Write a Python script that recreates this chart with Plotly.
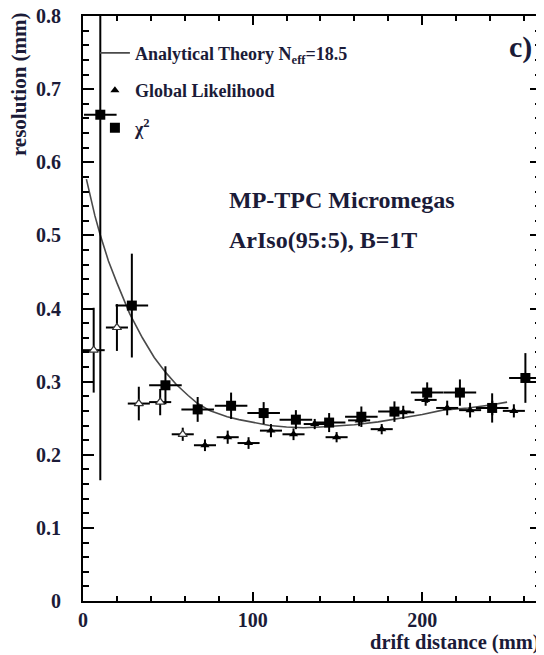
import plotly.graph_objects as go

# ---------------- data ----------------
# Analytical theory curve (N_eff = 18.5)
theory_x = [2, 4, 7, 10, 15, 20, 27.5, 35, 42, 48.6, 55, 62, 67.6, 75, 85, 92, 100,
            110, 120, 130, 140, 150, 160, 174, 190, 200, 212, 227, 240, 250]
theory_y = [0.577, 0.555, 0.527, 0.502, 0.465, 0.435, 0.393, 0.360, 0.333, 0.313,
            0.296, 0.281, 0.270, 0.260, 0.252, 0.248, 0.244, 0.240, 0.238, 0.237,
            0.238, 0.239, 0.241, 0.245, 0.251, 0.255, 0.261, 0.264, 0.268, 0.272]

# Global likelihood (triangles)
gl_x = [6.3, 20.0, 32.9, 45.5, 58.8, 71.9, 85.3, 97.6, 110.8, 124.1, 136.6, 149.5,
        162.8, 176.1, 188.8, 202.0, 214.7, 228.2, 241.3, 254.0]
gl_y = [0.343, 0.374, 0.270, 0.272, 0.228, 0.213, 0.224, 0.216, 0.233, 0.228, 0.242,
        0.224, 0.247, 0.235, 0.258, 0.275, 0.264, 0.261, 0.264, 0.260]
gl_xerr = [6.5] * 20
gl_yerr = [0.058, 0.032, 0.023, 0.018, 0.009, 0.008, 0.009, 0.008, 0.009, 0.008,
           0.007, 0.007, 0.008, 0.007, 0.009, 0.008, 0.010, 0.010, 0.010, 0.009]
gl_n_open = 5  # first points drawn as open markers

# Chi^2 (squares)
chi_x = [10.2, 28.8, 48.6, 67.6, 87.3, 106.5, 125.5, 145.1, 164.1, 183.6, 202.9,
         222.2, 241.2, 260.8]
chi_y = [0.665, 0.404, 0.295, 0.262, 0.267, 0.257, 0.248, 0.244, 0.252, 0.259,
         0.285, 0.285, 0.264, 0.305]
chi_xerr = [9.6] * 14
chi_yerr = [0.50, 0.071, 0.026, 0.017, 0.018, 0.015, 0.013, 0.013, 0.014, 0.014,
            0.014, 0.018, 0.020, 0.034]

x_range = [0, 270]
y_range = [0, 0.8]
x_ticks = [0, 100, 200]
y_ticks = [0, 0.1, 0.2, 0.3, 0.4, 0.5, 0.6, 0.7, 0.8]
y_ticklabels = ["0", "0.1", "0.2", "0.3", "0.4", "0.5", "0.6", "0.7", "0.8"]

# ---------------- figure ----------------
TXT = "#1b1b38"
FONT = "Liberation Serif"

fig = go.Figure()

fig.add_trace(go.Scatter(
    x=theory_x, y=theory_y, mode="lines",
    line=dict(color="#4a4a4a", width=1.6),
    name="Analytical Theory N<sub>eff</sub>=18.5", legendgroup="a",
))

fig.add_trace(go.Scatter(
    x=gl_x[gl_n_open:], y=gl_y[gl_n_open:], mode="markers",
    marker=dict(symbol="triangle-up", size=8, color="black"),
    error_x=dict(type="data", array=gl_xerr[gl_n_open:], color="black", thickness=2, width=0),
    error_y=dict(type="data", array=gl_yerr[gl_n_open:], color="black", thickness=2, width=0),
    name="Global Likelihood", legendgroup="b",
))
fig.add_trace(go.Scatter(
    x=gl_x[:gl_n_open], y=gl_y[:gl_n_open], mode="markers",
    marker=dict(symbol="triangle-up", size=8, color="white",
                line=dict(color="#333", width=1.2)),
    error_x=dict(type="data", array=gl_xerr[:gl_n_open], color="black", thickness=2, width=0),
    error_y=dict(type="data", array=gl_yerr[:gl_n_open], color="black", thickness=2, width=0),
    name="Global Likelihood", legendgroup="b", showlegend=False,
))

fig.add_trace(go.Scatter(
    x=chi_x, y=chi_y, mode="markers",
    marker=dict(symbol="square", size=10, color="black"),
    error_x=dict(type="data", array=chi_xerr, color="black", thickness=2, width=0),
    error_y=dict(type="data", array=chi_yerr, color="black", thickness=2, width=0),
    name="χ<sup>2</sup>", legendgroup="c",
))

axis_common = dict(
    showline=True, linecolor="black", linewidth=2, mirror="allticks",
    ticks="inside", tickcolor="black", tickwidth=1.5,
    showgrid=False, zeroline=False, ticklabeloverflow="allow", automargin=False,
    tickfont=dict(family=FONT, size=20, color=TXT, weight="bold"),
)

fig.update_xaxes(range=x_range, tickvals=x_ticks, ticklen=9,
                 minor=dict(dtick=20, ticks="inside", ticklen=5, tickcolor="black", tickwidth=1.5),
                 **axis_common)
fig.update_yaxes(range=y_range, tickvals=y_ticks, ticktext=y_ticklabels, ticklen=11,
                 ticklabelstandoff=16,
                 minor=dict(dtick=0.02, ticks="inside", ticklen=6, tickcolor="black", tickwidth=1.5),
                 **axis_common)

# The page body has an 8px margin, so the figure is sized to fit the window.
fig.update_layout(
    width=536, height=647,
    margin=dict(l=75, r=3, t=8, b=54),
    paper_bgcolor="white", plot_bgcolor="white",
    font=dict(family=FONT, color=TXT),
    legend=dict(
        x=0.026, y=0.968, xanchor="left", yanchor="top",
        bgcolor="rgba(0,0,0,0)", borderwidth=0,
        font=dict(family=FONT, size=18, color=TXT, weight="bold"),
        tracegroupgap=11, itemwidth=30,
    ),
    annotations=[
        dict(text="c)", x=0.985, y=0.98, xref="paper", yref="paper",
             xanchor="right", yanchor="top", showarrow=False,
             font=dict(family=FONT, size=30, color=TXT, weight="bold")),
        dict(text="MP-TPC Micromegas", x=0.315, y=0.685, xref="paper", yref="paper",
             xanchor="left", yanchor="middle", showarrow=False,
             font=dict(family=FONT, size=24, color=TXT, weight="bold")),
        dict(text="ArIso(95:5), B=1T", x=0.315, y=0.617, xref="paper", yref="paper",
             xanchor="left", yanchor="middle", showarrow=False,
             font=dict(family=FONT, size=24, color=TXT, weight="bold")),
        dict(text="drift distance (mm)", x=1.0, y=-0.0925, xref="paper", yref="paper",
             xanchor="right", yanchor="bottom", showarrow=False, borderpad=0,
             font=dict(family=FONT, size=20.5, color=TXT, weight="bold")),
        dict(text="resolution (mm)", x=-0.138, y=1.008, xref="paper", yref="paper",
             xanchor="center", yanchor="top", textangle=-90, showarrow=False, borderpad=0,
             font=dict(family=FONT, size=21, color=TXT, weight="bold")),
    ],
)

fig.write_html("out.html")
